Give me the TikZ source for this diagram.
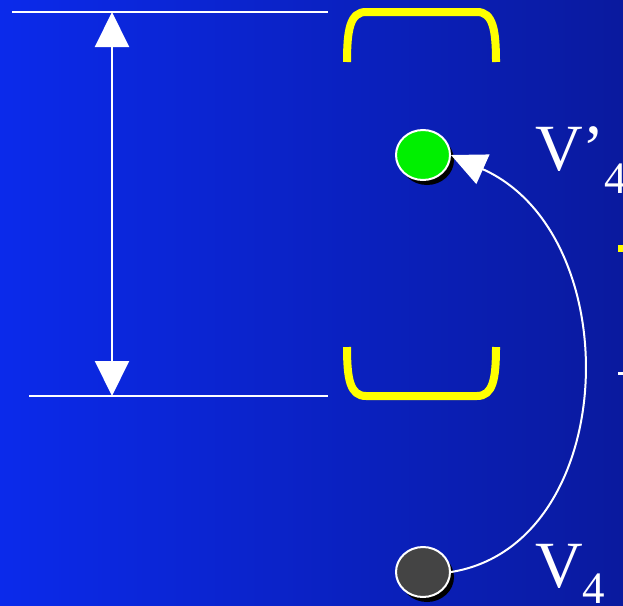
\documentclass[tikz,border=0pt]{standalone}
\usepackage{fontspec}
\setmainfont{Liberation Serif}
\usetikzlibrary{arrows.meta,shapes.geometric,shadows}
\definecolor{bgleft}{RGB}{11,42,235}
\definecolor{bgright}{RGB}{10,26,158}
\definecolor{ballgreen}{RGB}{0,240,0}
\definecolor{ballgray}{RGB}{68,68,68}
\definecolor{brk}{RGB}{255,255,0}
\begin{document}
\begin{tikzpicture}[x=1pt,y=-1pt,
  hline/.style={white,line width=2pt},
  bracket/.style={brk,line width=8pt},
  ball/.style={ellipse,draw=white,line width=2pt,inner sep=0pt,
    minimum width=54pt,minimum height=50pt,
    drop shadow={shadow xshift=4pt,shadow yshift=-5pt,fill=black,opacity=1}},
  lbl/.style={white,inner sep=0pt,anchor=base west,font=\fontsize{66}{66}\selectfont},
  dblarrow/.style={white,line width=2pt,{Triangle[width=34pt,length=35pt]}-{Triangle[width=34pt,length=35pt]}},
  jump/.style={white,line width=2pt,-{Triangle[width=32pt,length=35pt]}}
]
\useasboundingbox (0,0) rectangle (623,605);
\shade[left color=bgleft,right color=bgright] (0,0) rectangle (623,605);
% level lines
\coordinate (tl) at (12,12);
\coordinate (tr) at (328,12);
\coordinate (bl) at (29,396);
\coordinate (br) at (328,396);
\draw[hline] (tl) -- (tr);
\draw[hline] (bl) -- (br);
\coordinate (at) at (112,12);
\coordinate (ab) at (112,396);
\draw[dblarrow] (at) -- (ab);
% brackets
\draw[bracket] (347,62) .. controls (347,30) and (350,12) .. (366,12) -- (477,12) .. controls (493,12) and (496,30) .. (496,62);
\draw[bracket] (347,347) .. controls (347,379) and (350,396) .. (366,396) -- (477,396) .. controls (493,396) and (496,379) .. (496,347);
% balls
\node[ball,fill=ballgreen] (v4p) at (423,155) {};
\node[ball,fill=ballgray] (v4) at (423,572) {};
\draw[jump] (v4.east) .. controls (620,545) and (630,235) .. (v4p.east);
% labels
\node[lbl] (lv4p) at (535,170) {V’\raisebox{-23pt}{\fontsize{45}{45}\selectfont 4}};
\node[lbl] (lv4) at (535,587) {V\raisebox{-16pt}{\fontsize{45}{45}\selectfont 4}};
% clipped pieces at right edge
\fill[brk] (618,245) rectangle (623,252);
\fill[white] (618,372) rectangle (623,375);
\end{tikzpicture}
\end{document}
